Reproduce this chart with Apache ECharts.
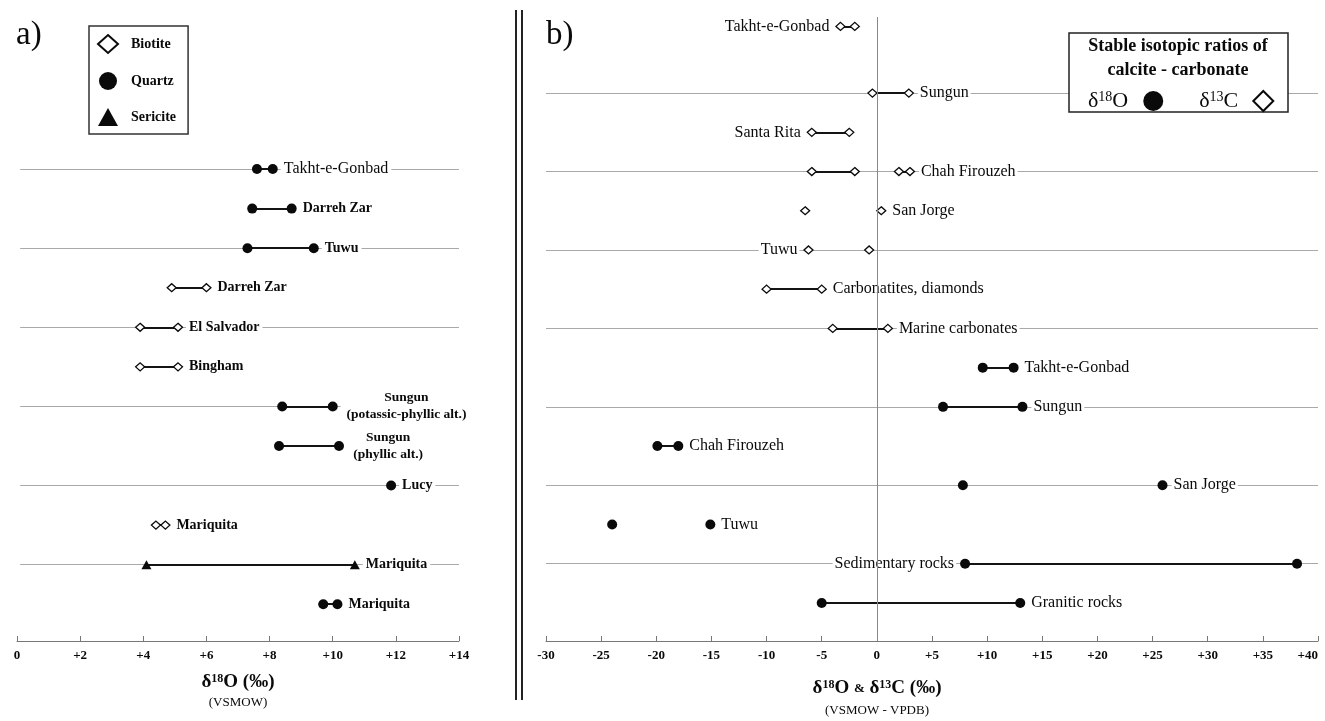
<!DOCTYPE html>
<html>
<head>
<meta charset="utf-8">
<script src="https://cdn.jsdelivr.net/npm/echarts@6/dist/echarts.min.js"></script>
<style>
  html, body { margin: 0; background: #fff; }
  #chart { width: 1325px; height: 721px; }
</style>
</head>
<body>
<div id="chart"></div>
<script>
// a) δ18O of silicate minerals (VSMOW)
const aSites = ['Takht-e-Gonbad', 'Darreh Zar', 'Tuwu', 'Darreh Zar', 'El Salvador', 'Bingham',
    'Sungun\n(potassic-phyllic alt.)', 'Sungun\n(phyllic alt.)', 'Lucy', 'Mariquita', 'Mariquita', 'Mariquita']
const aMineral = ['Quartz', 'Quartz', 'Quartz', 'Biotite', 'Biotite', 'Biotite',
    'Quartz', 'Quartz', 'Quartz', 'Biotite', 'Sericite', 'Quartz']
const aLow = [7.6, 7.45, 7.3, 4.9, 3.9, 3.9, 8.4, 8.3, 11.85, 4.4, 4.1, 9.7]
const aHigh = [8.1, 8.7, 9.4, 6.0, 5.1, 5.1, 10.0, 10.2, null, 4.7, 10.7, 10.15]
const aMinerals = ['Biotite', 'Quartz', 'Sericite']

// b) stable isotopic ratios of calcite - carbonate
const bSites = ['Takht-e-Gonbad', 'Sungun', 'Santa Rita', 'Chah Firouzeh', 'San Jorge', 'Tuwu',
    'Carbonatites, diamonds', 'Marine carbonates', 'Takht-e-Gonbad', 'Sungun', 'Chah Firouzeh',
    'San Jorge', 'Tuwu', 'Sedimentary rocks', 'Granitic rocks']
const bIsotope = ['δ13C', 'δ13C', 'δ13C', 'δ13C', 'δ13C', 'δ13C', 'δ13C', 'δ13C',
    'δ18O', 'δ18O', 'δ18O', 'δ18O', 'δ18O', 'δ18O', 'δ18O']
const bValues = [[-3.3, -2.0], [-0.4, 2.9], [-5.9, -2.5], [-5.9, -2.0, 2.0, 3.0], [-6.5, 0.4], [-6.2, -0.7],
    [-10, -5], [-4, 1], [9.6, 12.4], [6.0, 13.2], [-19.9, -18.0], [7.8, 25.9], [-24.0, -15.1],
    [8.0, 38.1], [-5.0, 13.0]]
const bLinked = [true, true, true, true, false, false, true, true, true, true, true, false, false, true, true]
const bRowPos = [-1.7, 0, 1, 2, 3, 4, 5, 6, 7, 8, 9, 10, 11, 12, 13]

const FONT = '"Liberation Serif", "Times New Roman", serif'
const INK = '#0a0a0a'
const aRange = [0, 14]
const bRange = [-30, 40]
const bLeftLabels = new Set([0, 2, 5, 13])

const chart = echarts.init(document.getElementById('chart'))

const sup = (size, weight) => ({ fontFamily: FONT, fontSize: size, fontWeight: weight, color: INK, verticalAlign: 'top' })
const txt = (size, weight) => ({ fontFamily: FONT, fontSize: size, fontWeight: weight, color: INK })

const openMark = { color: '#fff', borderColor: INK, borderWidth: 1.3, opacity: 1 }
const solidMark = { color: INK, opacity: 1 }
const markerStyle = {
    Biotite: { symbol: 'diamond', symbolSize: [9, 8], itemStyle: openMark },
    Quartz: { symbol: 'circle', symbolSize: 10, itemStyle: solidMark },
    Sericite: { symbol: 'triangle', symbolSize: [10, 9], itemStyle: solidMark },
    'δ13C': { symbol: 'diamond', symbolSize: [9, 8], itemStyle: openMark },
    'δ18O': { symbol: 'circle', symbolSize: 10, itemStyle: solidMark }
}

const greyLine = { color: '#a9a9a9', width: 1.2, opacity: 1 }
const linkLine = { color: '#141414', width: 2, opacity: 1 }

// panel a series
const aSeries = [
    {
        type: 'lines', coordinateSystem: 'cartesian2d', xAxisIndex: 0, yAxisIndex: 0, z: 1, silent: true,
        lineStyle: greyLine,
        data: aSites.flatMap((s, i) => i % 2 === 0 ? [{ coords: [[aRange[0] + 0.1, i], [aRange[1], i]] }] : [])
    },
    {
        type: 'lines', coordinateSystem: 'cartesian2d', xAxisIndex: 0, yAxisIndex: 0, z: 2, silent: true,
        lineStyle: linkLine,
        data: aSites.flatMap((s, i) => aHigh[i] == null ? [] : [{ coords: [[aLow[i], i], [aHigh[i], i]] }])
    },
    ...aMinerals.map(m => ({
        name: m, type: 'scatter', xAxisIndex: 0, yAxisIndex: 0, z: 3, silent: true,
        ...markerStyle[m],
        data: aSites.flatMap((s, i) => aMineral[i] !== m ? []
            : [aLow[i], aHigh[i]].filter(v => v != null).map(v => [v, i]))
    })),
    {
        type: 'scatter', xAxisIndex: 0, yAxisIndex: 0, z: 4, silent: true,
        symbolSize: 10, itemStyle: { color: 'rgba(0,0,0,0)', opacity: 1 },
        label: {
            show: true, position: 'right', distance: 3, padding: [1, 3],
            backgroundColor: '#fff', ...txt(14, 'bold'),
            formatter: p => p.name.includes('\n') ? p.name.split('\n').map(t => '{c|' + t + '}').join('\n') : p.name
        },
        data: aSites.map((s, i) => {
            const item = { name: s, value: [aHigh[i] == null ? aLow[i] : aHigh[i], i] }
            if (i === 0) item.label = { fontWeight: 'normal', fontSize: 16 }
            if (s.includes('\n')) {
                const w = Math.max(...s.split('\n').map(t => t.length)) * 5.45
                item.label = { rich: { c: { ...txt(13.5, 'bold'), width: w, align: 'center', lineHeight: 17 } } }
            }
            return item
        })
    }
]

// panel b series
const bSeries = [
    {
        type: 'lines', coordinateSystem: 'cartesian2d', xAxisIndex: 1, yAxisIndex: 1, z: 1, silent: true,
        lineStyle: greyLine,
        data: bRowPos.flatMap(r => r >= 0 && r % 2 === 0 ? [{ coords: [[bRange[0], r], [bRange[1], r]] }] : [])
    },
    {
        type: 'lines', coordinateSystem: 'cartesian2d', xAxisIndex: 1, yAxisIndex: 1, z: 2, silent: true,
        lineStyle: linkLine,
        data: bSites.flatMap((s, i) => {
            if (!bLinked[i]) return []
            const v = bValues[i], out = []
            for (let k = 0; k + 1 < v.length; k += 2) out.push({ coords: [[v[k], bRowPos[i]], [v[k + 1], bRowPos[i]]] })
            return out
        })
    },
    ...['δ18O', 'δ13C'].map(iso => ({
        name: iso, type: 'scatter', xAxisIndex: 1, yAxisIndex: 1, z: 3, silent: true,
        ...markerStyle[iso],
        data: bSites.flatMap((s, i) => bIsotope[i] !== iso ? [] : bValues[i].map(v => [v, bRowPos[i]]))
    })),
    {
        type: 'scatter', xAxisIndex: 1, yAxisIndex: 1, z: 4, silent: true,
        symbolSize: 10, itemStyle: { color: 'rgba(0,0,0,0)', opacity: 1 },
        label: {
            show: true, position: 'right', distance: 4, padding: [1, 2],
            backgroundColor: '#fff', ...txt(16, 'normal'), formatter: p => p.name
        },
        data: bSites.map((s, i) => {
            const v = bValues[i], left = bLeftLabels.has(i)
            return { name: s, value: [left ? v[0] : v[v.length - 1], bRowPos[i]], label: { position: left ? 'left' : 'right' } }
        }),
        markLine: {
            silent: true, symbol: 'none', z: 5, animation: false,
            label: { show: false },
            lineStyle: { color: '#8a8a8a', width: 1, type: 'solid' },
            data: [{ xAxis: 0 }]
        }
    }
]

const axisCommon = {
    type: 'value',
    splitLine: { show: false },
    axisLine: { onZero: false, lineStyle: { color: '#777', width: 1 } },
    axisTick: { inside: true, length: 5, lineStyle: { color: '#777' } },
    axisLabel: { margin: 8, ...txt(13, 'bold'), formatter: v => v > 0 ? '+' + v : '' + v },
    nameLocation: 'middle'
}

chart.setOption({
    animation: false,
    title: [
        { text: 'a)', left: 11, top: 14, textStyle: { ...txt(33, 'normal') } },
        { text: 'b)', left: 541, top: 14, textStyle: { ...txt(33, 'normal') } }
    ],
    legend: [
        {
            data: aMinerals, orient: 'vertical', left: 89, top: 26, selectedMode: false,
            padding: [8, 12, 8, 8], itemWidth: 20, itemHeight: 18, itemGap: 18,
            borderColor: '#333', borderWidth: 1.5,
            textStyle: { ...txt(14, 'bold'), padding: [0, 0, 0, 8] }
        },
        {
            data: ['δ18O', 'δ13C'], left: 1083, top: 85, z: 7, align: 'right', selectedMode: false,
            itemWidth: 20, itemHeight: 20, itemGap: 36,
            formatter: n => '{n|δ}{s|' + n.slice(1, 3) + '}{n|' + n.slice(3) + '}',
            textStyle: { padding: [0, 10, 0, 0], rich: { n: txt(22, 'normal'), s: sup(14, 'normal') } }
        }
    ],
    grid: [
        { left: 17, width: 442, top: 129.5, height: 511.5, outerBoundsMode: 'none' },
        { left: 546, width: 772, top: 17, height: 624, outerBoundsMode: 'none' }
    ],
    xAxis: [
        {
            ...axisCommon, gridIndex: 0, min: aRange[0], max: aRange[1], interval: 2,
            name: '{b|δ}{bs|18}{b|O (‰)}\n{r|(VSMOW)}', nameGap: 32,
            nameTextStyle: { rich: { b: txt(19, 'bold'), bs: sup(12, 'bold'), r: { ...txt(13, 'normal'), lineHeight: 22 } } }
        },
        {
            ...axisCommon, gridIndex: 1, min: bRange[0], max: bRange[1], interval: 5,
            axisLabel: { ...axisCommon.axisLabel, alignMaxLabel: 'right' },
            name: '{b|δ}{bs|18}{b|O }{amp|&}{b| δ}{bs|13}{b|C (‰)}\n{r|(VSMOW - VPDB)}', nameGap: 38,
            nameTextStyle: {
                padding: [0, 110, 0, 0],
                rich: { b: txt(19, 'bold'), bs: sup(12, 'bold'), amp: txt(13, 'bold'), r: { ...txt(13, 'normal'), lineHeight: 25 } }
            }
        }
    ],
    yAxis: [
        { type: 'value', gridIndex: 0, inverse: true, min: -1, max: 11.93, show: false },
        { type: 'value', gridIndex: 1, inverse: true, min: -1.94, max: 13.97, show: false }
    ],
    graphic: [
        { type: 'line', shape: { x1: 516, y1: 10, x2: 516, y2: 700 }, style: { stroke: '#222', lineWidth: 2 } },
        { type: 'line', shape: { x1: 522, y1: 10, x2: 522, y2: 700 }, style: { stroke: '#222', lineWidth: 2 } },
        { type: 'rect', z: 6, shape: { x: 1069, y: 33, width: 219, height: 79 }, style: { fill: '#fff', stroke: '#222', lineWidth: 1.5 } },
        {
            type: 'text', z: 7, x: 1178, y: 46,
            style: { text: 'Stable isotopic ratios of', font: 'bold 18px ' + FONT, fill: INK, align: 'center', verticalAlign: 'middle' }
        },
        {
            type: 'text', z: 7, x: 1178, y: 70,
            style: { text: 'calcite - carbonate', font: 'bold 18px ' + FONT, fill: INK, align: 'center', verticalAlign: 'middle' }
        }
    ],
    series: [...aSeries, ...bSeries]
})
</script>
</body>
</html>
